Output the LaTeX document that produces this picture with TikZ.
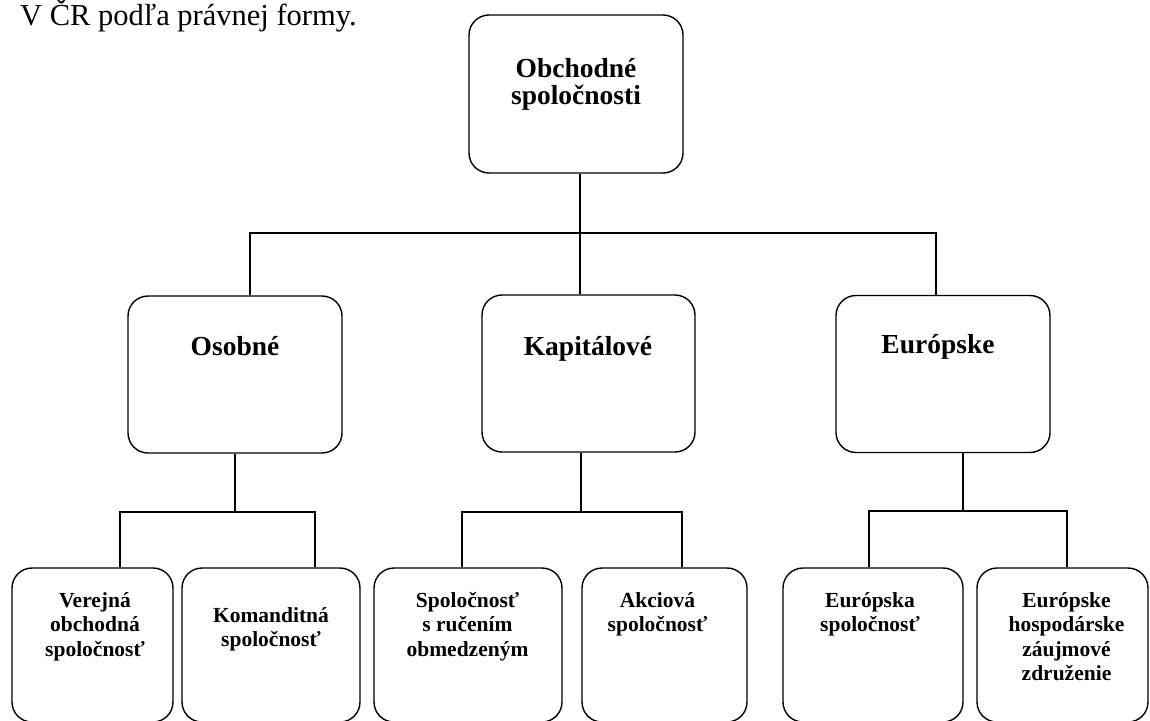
\documentclass[tikz,border=0pt]{standalone}
\usepackage{fontspec}
\setmainfont{Liberation Serif}
\begin{document}
\begin{tikzpicture}[x=1pt,y=-1pt,
  box/.style={draw, line width=1.4pt, rounded corners=20pt, inner sep=0pt},
  conn/.style={line width=1.4pt},
  big/.style={font=\bfseries\fontsize{27.5}{27}\selectfont, align=center, anchor=base, inner sep=0pt},
  small/.style={font=\bfseries\fontsize{21.5}{24.5}\selectfont, align=center, anchor=base, inner sep=0pt}]
\useasboundingbox (0,0) rectangle (1150,720);
\clip (0,0) rectangle (1150,720);

\node[font=\fontsize{30.5}{30}\selectfont, anchor=base west, inner sep=0pt] (title) at (20,25) {V ČR podľa právnej formy.};

% level 1 (base anchor = last line baseline)
\node[box, minimum width=214pt, minimum height=158pt] (top) at (576,94) {};
\node[big] (toptxt) at (576,104) {Obchodné\\spoločnosti};

% level 2
\node[box, minimum width=214pt, minimum height=157pt] (os) at (235,374.5) {};
\node[big] (ostxt) at (235,355) {Osobné};
\node[box, minimum width=213pt, minimum height=157pt] (kap) at (588.5,373.5) {};
\node[big] (kaptxt) at (588,355) {Kapitálové};
\node[box, minimum width=214pt, minimum height=157pt] (eu) at (943,374) {};
\node[big] (eutxt) at (938,353) {Európske};

% level 3
\node[box, minimum width=161pt, minimum height=154pt] (b1) at (92.5,645) {};
\node[small] (b1t) at (95,656) {Verejná\\obchodná\\spoločnosť};
\node[box, minimum width=178pt, minimum height=154pt] (b2) at (271,645) {};
\node[small] (b2t) at (271,646.5) {Komanditná\\spoločnosť};
\node[box, minimum width=188pt, minimum height=154pt] (b3) at (468,645) {};
\node[small] (b3t) at (467.5,656) {Spoločnosť\\s ručením\\obmedzeným};
\node[box, minimum width=165pt, minimum height=154pt] (b4) at (664.5,645) {};
\node[small] (b4t) at (657.5,631.5) {Akciová\\spoločnosť};
\node[box, minimum width=180pt, minimum height=154pt] (b5) at (873,645) {};
\node[small] (b5t) at (870,631.5) {Európska\\spoločnosť};
\node[box, minimum width=171pt, minimum height=154pt] (b6) at (1062.5,645) {};
\node[small] (b6t) at (1066.5,680.5) {Európske\\hospodárske\\záujmové\\združenie};

% connectors level 1 -> 2
\coordinate (j0) at (580,233);
\draw[conn] ([xshift=4pt]top.south) -- (j0);
\draw[conn] ([xshift=15pt]os.north) |- (j0) -| ([xshift=-7pt]eu.north);
\draw[conn] (j0) -- (j0 |- kap.north);

% connectors level 2 -> 3
\coordinate (j1) at (235,512);
\draw[conn] (os.south) -- (j1);
\draw[conn] ([xshift=27.5pt]b1.north) |- (j1) -| ([xshift=44pt]b2.north);
\coordinate (j2) at (581,512);
\draw[conn] (j2 |- kap.south) -- (j2);
\draw[conn] ([xshift=-6pt]b3.north) |- (j2) -| ([xshift=17.5pt]b4.north);
\coordinate (j3) at (963,511);
\draw[conn] (j3 |- eu.south) -- (j3);
\draw[conn] ([xshift=-4pt]b5.north) |- (j3) -| ([xshift=4.5pt]b6.north);
\end{tikzpicture}
\end{document}
